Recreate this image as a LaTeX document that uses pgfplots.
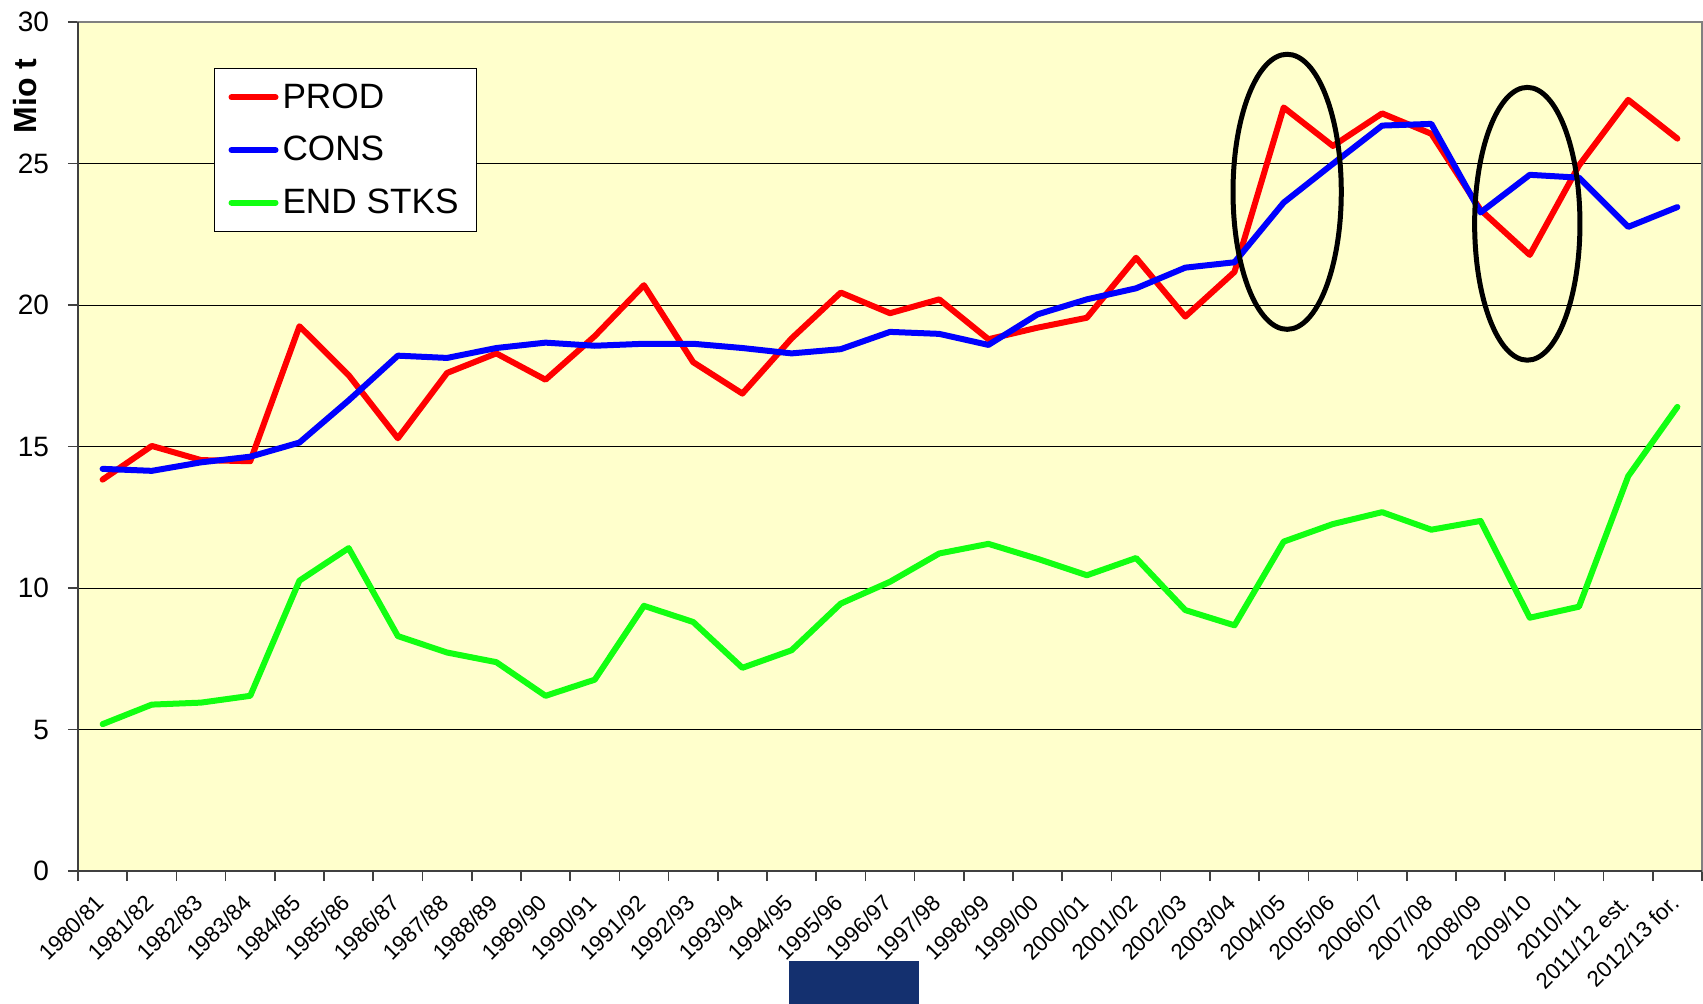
\documentclass[border=0pt]{standalone}
\usepackage{pgfplots}
\pgfplotsset{compat=1.18}
\usepackage{fontspec}
\setmainfont{Liberation Sans}
\definecolor{bgyel}{HTML}{FFFFCC}
\definecolor{navy}{HTML}{14306F}
\definecolor{prodred}{HTML}{FF0000}
\definecolor{consblue}{HTML}{0000FF}
\definecolor{stkgreen}{HTML}{11FF11}
\begin{document}
\begin{tikzpicture}
\useasboundingbox (-39pt,-66pt) rectangle (812.5pt,435.5pt);
\fill[navy] (355.5pt,-45pt) rectangle (420.5pt,-70pt);
\begin{axis}[
  at={(0,0)}, anchor=south west,
  scale only axis, width=812pt, height=424.5pt,
  xmin=-0.5, xmax=32.5, ymin=0, ymax=30,
  axis background/.style={fill=bgyel},
  axis line style={draw=black!50, line width=1pt},
  ytick={0,5,...,30},
  ymajorgrids, grid style={black, line width=0.5pt},
  tick align=outside, ytick pos=left, xtick pos=bottom,
  major tick length=5pt,
  tick style={black!75, line width=0.8pt},
  xtick={-0.5,0.5,...,32.5},
  xticklabels={1980/81,1981/82,1982/83,1983/84,1984/85,1985/86,1986/87,1987/88,1988/89,1989/90,1990/91,1991/92,1992/93,1993/94,1994/95,1995/96,1996/97,1997/98,1998/99,1999/00,2000/01,2001/02,2002/03,2003/04,2004/05,2005/06,2006/07,2007/08,2008/09,2009/10,2010/11,2011/12 est.,2012/13 for.,{}},
  xticklabel style={rotate=45, anchor=east, inner sep=0pt, xshift=1.65pt, yshift=-14.15pt, font=\fontsize{11.2}{12}\selectfont},
  yticklabel style={font=\fontsize{14}{16}\selectfont, xshift=-6pt},
  /pgf/number format/assume math mode=true,
  legend style={at={(0.0837,0.9458)}, anchor=north west, draw=black, line width=0.6pt, fill=white,
    font=\fontsize{17.6}{19}\selectfont, inner xsep=7pt, inner ysep=5.5pt, row sep=8.5pt},
  legend cell align=left,
  legend image code/.code={\draw[#1, line cap=round] (0pt,0pt) -- (22pt,0pt);},
  every axis plot/.append style={line width=3pt, line join=round, line cap=round},
  clip=false,
]
\addplot[prodred] coordinates {
(0,13.83) (1,15.02) (2,14.52) (3,14.48) (4,19.25) (5,17.52) (6,15.29) (7,17.6) (8,18.29) (9,17.36)
(10,18.9) (11,20.7) (12,17.98) (13,16.87) (14,18.82) (15,20.44) (16,19.71) (17,20.2) (18,18.79) (19,19.2)
(20,19.55) (21,21.67) (22,19.59) (23,21.17) (24,26.98) (25,25.62) (26,26.77) (27,26.05) (28,23.36) (29,21.77)
(30,24.93) (31,27.25) (32,25.88)};
\addlegendentry{PROD}
\addplot[consblue] coordinates {
(0,14.21) (1,14.14) (2,14.44) (3,14.64) (4,15.14) (5,16.63) (6,18.21) (7,18.13) (8,18.48) (9,18.67)
(10,18.56) (11,18.63) (12,18.63) (13,18.48) (14,18.29) (15,18.44) (16,19.05) (17,18.98) (18,18.59) (19,19.67)
(20,20.2) (21,20.59) (22,21.32) (23,21.51) (24,23.62) (25,24.99) (26,26.34) (27,26.4) (28,23.27) (29,24.6)
(30,24.5) (31,22.76) (32,23.46)};
\addlegendentry{CONS}
\addplot[stkgreen] coordinates {
(0,5.19) (1,5.88) (2,5.95) (3,6.19) (4,10.26) (5,11.41) (6,8.3) (7,7.72) (8,7.38) (9,6.19)
(10,6.76) (11,9.37) (12,8.8) (13,7.18) (14,7.8) (15,9.45) (16,10.22) (17,11.22) (18,11.56) (19,11.03)
(20,10.45) (21,11.06) (22,9.22) (23,8.68) (24,11.64) (25,12.26) (26,12.68) (27,12.06) (28,12.37) (29,8.95)
(30,9.34) (31,13.95) (32,16.4)};
\addlegendentry{END STKS}
\draw[black, line width=2.5pt] (axis cs:24.07,24) ellipse [x radius=1.10, y radius=4.86];
\draw[black, line width=2.5pt] (axis cs:28.95,22.87) ellipse [x radius=1.07, y radius=4.82];
\draw[black!75, line width=1pt] (rel axis cs:0,1) -- (rel axis cs:0,0) -- (rel axis cs:1,0);
\node[rotate=90, font=\bfseries\fontsize{16}{18}\selectfont] at (rel axis cs:-0.0326,0.913) {Mio t};
\end{axis}
\end{tikzpicture}
\end{document}
